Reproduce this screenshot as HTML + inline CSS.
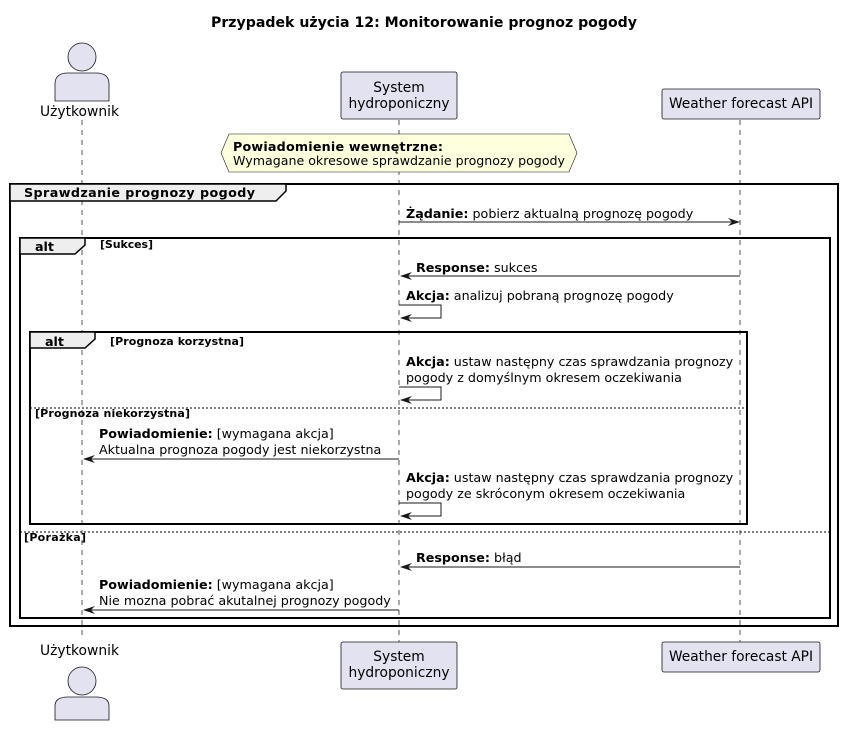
<!DOCTYPE html>
<html><head><meta charset="utf-8"><style>
body{margin:0;background:#fff}
svg text{font-family:"DejaVu Sans","Liberation Sans",sans-serif;font-size:12.7px;fill:#000}
.b{font-weight:bold}
.s{font-size:11px;font-weight:bold}
.p{font-size:13.8px}
</style></head><body>
<svg width="844" height="725" viewBox="0 0 844 725" xmlns="http://www.w3.org/2000/svg">
<text x="211" y="27" class="b" style="font-size:14px" textLength="426" lengthAdjust="spacingAndGlyphs">Przypadek użycia 12: Monitorowanie prognoz pogody</text>
<g stroke="#555" stroke-dasharray="5,5" stroke-width="1">
<line x1="82" y1="120" x2="82" y2="640"/>
<line x1="399" y1="120" x2="399" y2="642"/>
<line x1="740" y1="120" x2="740" y2="642"/>
</g>
<g fill="#E2E2F0" stroke="#181818" stroke-width="0.8">
<circle cx="82" cy="57" r="14"/>
<path d="M55,101 L55,84 Q55,73 68,73 L96,73 Q109,73 109,84 L109,101 Z"/>
<circle cx="82" cy="681" r="14"/>
<path d="M55,720 L55,706 Q55,697 68,697 L96,697 Q109,697 109,706 L109,720 Z"/>
<rect x="341" y="72" width="116" height="47" rx="2"/>
<rect x="662" y="89" width="158" height="30" rx="2"/>
<rect x="341" y="642" width="116" height="47" rx="2"/>
<rect x="662" y="642" width="158" height="30" rx="2"/>
</g>
<text x="40" y="116" class="p" textLength="79" lengthAdjust="spacingAndGlyphs">Użytkownik</text>
<text x="40" y="655" class="p" textLength="79" lengthAdjust="spacingAndGlyphs">Użytkownik</text>
<text x="399" y="92" text-anchor="middle" class="p">System</text>
<text x="399" y="108" text-anchor="middle" class="p">hydroponiczny</text>
<text x="669" y="108" class="p" textLength="144" lengthAdjust="spacingAndGlyphs">Weather forecast API</text>
<text x="399" y="661" text-anchor="middle" class="p">System</text>
<text x="399" y="677" text-anchor="middle" class="p">hydroponiczny</text>
<text x="669" y="661" class="p" textLength="144" lengthAdjust="spacingAndGlyphs">Weather forecast API</text>
<polygon points="229,134 569,134 577,153 569,172 229,172 221,153" fill="#FEFFDD" stroke="#181818" stroke-width="0.6"/>
<text x="233" y="151" class="b" textLength="210" lengthAdjust="spacing">Powiadomienie wewnętrzne:</text>
<text x="233" y="165" textLength="332" lengthAdjust="spacingAndGlyphs">Wymagane okresowe sprawdzanie prognozy pogody</text>
<g fill="none" stroke="#000">
<rect x="10" y="184" width="828" height="442" stroke-width="2"/>
<rect x="20" y="238" width="810" height="380" stroke-width="2"/>
<rect x="30" y="332" width="717" height="192" stroke-width="2"/>
</g>
<g fill="#EEEEEE" stroke="#000" stroke-width="1.5">
<path d="M10,184 L286,184 L286,191 L276,201 L10,201 Z"/>
<path d="M20,238 L85,238 L85,245 L75,254 L20,254 Z"/>
<path d="M30,332 L95,332 L95,339 L85,348 L30,348 Z"/>
</g>
<text x="24" y="197" class="b" textLength="231" lengthAdjust="spacing">Sprawdzanie prognozy pogody</text>
<text x="35" y="251" class="b">alt</text>
<text x="45" y="346" class="b">alt</text>
<text x="100" y="248" class="s" textLength="53" lengthAdjust="spacing">[Sukces]</text>
<text x="110" y="345" class="s" textLength="134" lengthAdjust="spacing">[Prognoza korzystna]</text>
<g stroke="#000" stroke-dasharray="2,2" stroke-width="1">
<line x1="30" y1="408" x2="747" y2="408"/>
<line x1="20" y1="532" x2="830" y2="532"/>
</g>
<text x="35" y="417" class="s" textLength="155" lengthAdjust="spacing">[Prognoza niekorzystna]</text>
<text x="24" y="541" class="s" textLength="62" lengthAdjust="spacing">[Porażka]</text>
<g stroke="#181818" stroke-width="1" fill="none">
<line x1="399" y1="222" x2="738" y2="222"/>
<line x1="402" y1="276" x2="740" y2="276"/>
<polyline points="399,305 441,305 441,318 402,318"/>
<polyline points="399,387 441,387 441,400 402,400"/>
<line x1="85" y1="459" x2="399" y2="459"/>
<polyline points="399,503 441,503 441,516 402,516"/>
<line x1="402" y1="567" x2="740" y2="567"/>
<line x1="85" y1="610" x2="399" y2="610"/>
</g>
<g fill="#181818">
<polygon points="740,222 728,218 732,222 728,226"/>
<polygon points="400,276 412,272 408,276 412,280"/>
<polygon points="400,318 412,314 408,318 412,322"/>
<polygon points="400,400 412,396 408,400 412,404"/>
<polygon points="83,459 95,455 91,459 95,463"/>
<polygon points="400,516 412,512 408,516 412,520"/>
<polygon points="400,567 412,563 408,567 412,571"/>
<polygon points="83,610 95,606 91,610 95,614"/>
</g>
<text x="406" y="218"><tspan class="b">Żądanie:</tspan> pobierz aktualną prognozę pogody</text>
<text x="416" y="272"><tspan class="b">Response:</tspan> sukces</text>
<text x="406" y="300"><tspan class="b">Akcja:</tspan> analizuj pobraną prognozę pogody</text>
<text x="406" y="366"><tspan class="b">Akcja:</tspan> ustaw następny czas sprawdzania prognozy</text>
<text x="406" y="382">pogody z domyślnym okresem oczekiwania</text>
<text x="99" y="438"><tspan class="b">Powiadomienie:</tspan> [wymagana akcja]</text>
<text x="99" y="454">Aktualna prognoza pogody jest niekorzystna</text>
<text x="406" y="482"><tspan class="b">Akcja:</tspan> ustaw następny czas sprawdzania prognozy</text>
<text x="406" y="498">pogody ze skróconym okresem oczekiwania</text>
<text x="416" y="562"><tspan class="b">Response:</tspan> błąd</text>
<text x="99" y="589"><tspan class="b">Powiadomienie:</tspan> [wymagana akcja]</text>
<text x="99" y="605">Nie mozna pobrać akutalnej prognozy pogody</text>
</svg>
</body></html>
